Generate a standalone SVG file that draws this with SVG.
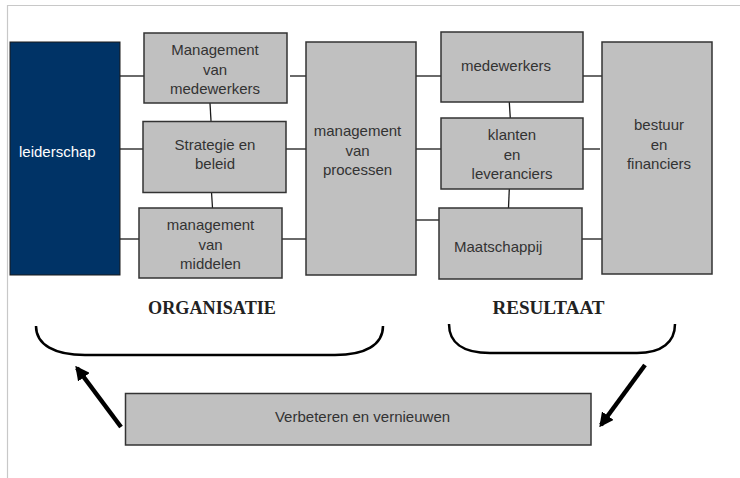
<svg xmlns="http://www.w3.org/2000/svg" width="740" height="478" viewBox="0 0 740 478">
<style>
.box{fill:#c0c0c0;stroke:#333;stroke-width:1.5}
.lead{fill:#003366;stroke:#1a1a1a;stroke-width:1}
.t{font-family:"Liberation Sans",Arial,sans-serif;font-size:15px;fill:#333;text-anchor:middle}
.tl{font-family:"Liberation Sans",Arial,sans-serif;font-size:15px;fill:#fff}
.h{font-family:"Liberation Serif","Times New Roman",serif;font-size:18px;font-weight:bold;fill:#222;text-anchor:middle}
.c{stroke:#1a1a1a;stroke-width:1.3;fill:none}
.brace{stroke:#000;stroke-width:2.5;fill:none}
.arr{stroke:#000;stroke-width:4.5;fill:none}
</style>
<defs>
<marker id="ah" viewBox="0 0 10 10" refX="8" refY="5" markerWidth="3.2" markerHeight="3.2" orient="auto" markerUnits="strokeWidth">
<path d="M0,0 L10,5 L0,10 z" fill="#000"/>
</marker>
</defs>
<rect x="0" y="0" width="740" height="478" fill="#fff"/>
<path d="M7.5,478 V5.5 H740" fill="none" stroke="#c8c8c8" stroke-width="1.2"/>
<g id="connectors">
<line class="c" x1="120" y1="76" x2="144" y2="76"/>
<line class="c" x1="120" y1="149" x2="143" y2="149"/>
<line class="c" x1="120" y1="239" x2="139" y2="239"/>
<line class="c" x1="290" y1="76" x2="306" y2="76"/>
<line class="c" x1="286" y1="149" x2="306" y2="149"/>
<line class="c" x1="282" y1="239" x2="306" y2="239"/>
<line class="c" x1="210" y1="103" x2="211" y2="121"/>
<line class="c" x1="211.5" y1="192" x2="212.5" y2="208"/>
<line class="c" x1="416" y1="76" x2="441" y2="76"/>
<line class="c" x1="416" y1="149" x2="441" y2="149"/>
<line class="c" x1="416" y1="220" x2="439" y2="220"/>
<line class="c" x1="583" y1="76" x2="602" y2="76"/>
<line class="c" x1="583" y1="149" x2="600" y2="149"/>
<line class="c" x1="582" y1="239" x2="602" y2="239"/>
<line class="c" x1="509.3" y1="102" x2="510.3" y2="118"/>
<line class="c" x1="509.3" y1="189" x2="508.5" y2="208"/>
<path class="arr" d="M121,427 L77,368" marker-end="url(#ah)"/>
<path class="arr" d="M645,365 L601,425" marker-end="url(#ah)"/>
</g>
<g id="leiderschap">
<rect class="lead" x="10" y="42" width="110" height="233"/>
<text class="tl" x="19" y="157">leiderschap</text>
</g>
<g id="management-medewerkers">
<rect class="box" x="144" y="33" width="143" height="70"/>
<text class="t" x="215" y="55">Management</text>
<text class="t" x="215" y="74.5">van</text>
<text class="t" x="215" y="94">medewerkers</text>
</g>
<g id="strategie">
<rect class="box" x="143" y="121.5" width="143" height="71"/>
<text class="t" x="215" y="150">Strategie en</text>
<text class="t" x="215" y="169">beleid</text>
</g>
<g id="management-middelen">
<rect class="box" x="139" y="208" width="143" height="70"/>
<text class="t" x="210.5" y="230">management</text>
<text class="t" x="210.5" y="249.5">van</text>
<text class="t" x="210.5" y="269">middelen</text>
</g>
<g id="management-processen">
<rect class="box" x="306" y="42" width="110" height="233"/>
<text class="t" x="357.5" y="136">management</text>
<text class="t" x="357.5" y="155.5">van</text>
<text class="t" x="357.5" y="175">processen</text>
</g>
<g id="medewerkers">
<rect class="box" x="441" y="32" width="142" height="70"/>
<text class="t" x="506" y="71">medewerkers</text>
</g>
<g id="klanten">
<rect class="box" x="441" y="118" width="142" height="71"/>
<text class="t" x="512" y="140">klanten</text>
<text class="t" x="512" y="159.5">en</text>
<text class="t" x="512" y="179">leveranciers</text>
</g>
<g id="maatschappij">
<rect class="box" x="439" y="208" width="143" height="71"/>
<text class="t" x="454" y="252" style="text-anchor:start">Maatschappij</text>
</g>
<g id="bestuur">
<rect class="box" x="602" y="42" width="110" height="232"/>
<text class="t" x="659" y="130">bestuur</text>
<text class="t" x="659" y="149.5">en</text>
<text class="t" x="659" y="169">financiers</text>
</g>
<g id="organisatie">
<text class="h" x="212" y="314" textLength="128" lengthAdjust="spacingAndGlyphs">ORGANISATIE</text>
<path class="brace" d="M36,326 C36,345 55,355 85,355 L335,355 C365,355 383,345 383,326"/>
</g>
<g id="resultaat">
<text class="h" x="548.5" y="314" textLength="112" lengthAdjust="spacingAndGlyphs">RESULTAAT</text>
<path class="brace" d="M449,324 C449,342 462,353 490,353 L637,353 C662,353 675,342 675,324"/>
</g>
<g id="verbeteren">
<rect class="box" x="125.5" y="393.5" width="465.5" height="51.5"/>
<text class="t" x="362.5" y="422">Verbeteren en vernieuwen</text>
</g>
</svg>
